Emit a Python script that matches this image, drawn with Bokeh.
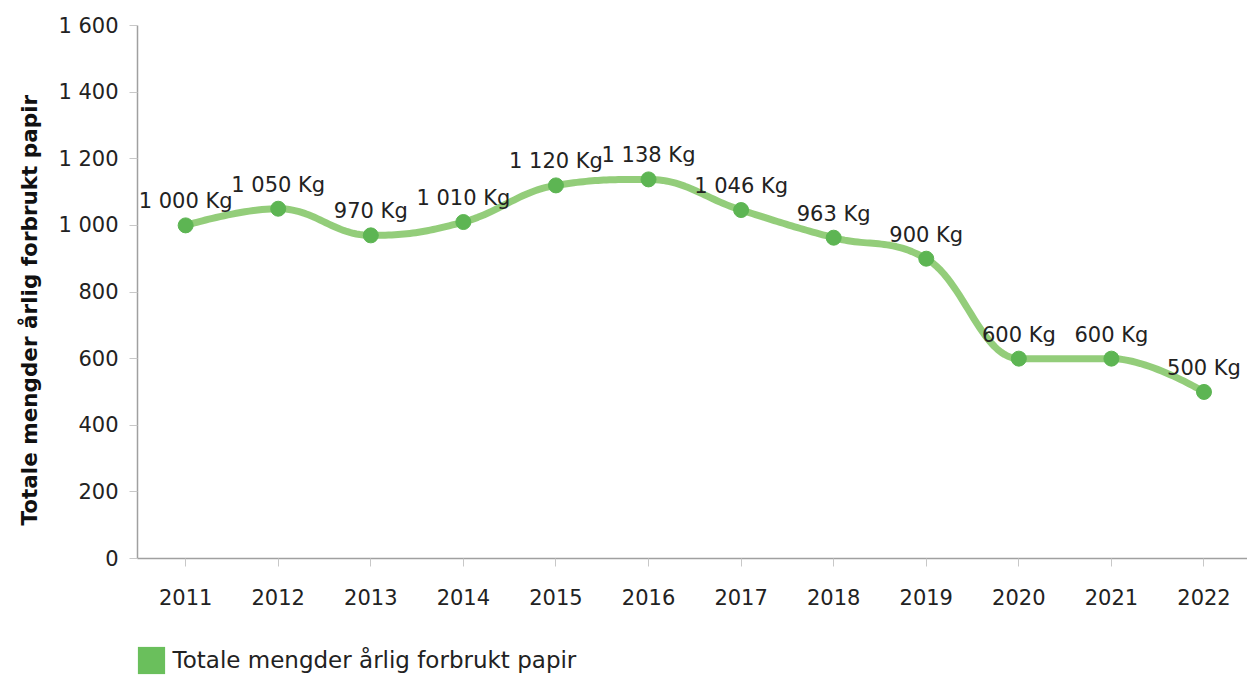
import numpy as np
from bokeh.plotting import figure
from bokeh.layouts import column
from bokeh.models import ColumnDataSource, Legend, LegendItem, FixedTicker, Range1d, Title
from bokeh.embed import file_html
from bokeh.resources import INLINE
from bokeh.core.properties import value

years = [2011, 2012, 2013, 2014, 2015, 2016, 2017, 2018, 2019, 2020, 2021, 2022]
amounts = [1000, 1050, 970, 1010, 1120, 1138, 1046, 963, 900, 600, 600, 500]
point_labels = ["1 000 Kg", "1 050 Kg", "970 Kg", "1 010 Kg", "1 120 Kg", "1 138 Kg",
                "1 046 Kg", "963 Kg", "900 Kg", "600 Kg", "600 Kg", "500 Kg"]
y_ticks = [0, 200, 400, 600, 800, 1000, 1200, 1400, 1600]
y_tick_labels = ["0", "200", "400", "600", "800", "1 000", "1 200", "1 400", "1 600"]
series_name = "Totale mengder årlig forbrukt papir"
y_title = "Totale mengder årlig forbrukt papir"

FONT = "DejaVu Sans"
LINE_COLOR = "#8dca73"
MARKER_COLOR = "#5db553"
LEGEND_COLOR = "#6abf5c"


def spline_path(xs, ys, smoothing=1.5, n=30):
    """Highcharts-style spline through the data points."""
    xs = [float(v) for v in xs]
    ys = [float(v) for v in ys]
    m = len(xs)
    ctrl = []
    for i in range(m):
        if i == 0 or i == m - 1:
            ctrl.append((xs[i], ys[i], xs[i], ys[i]))
            continue
        denom = smoothing + 1
        lx = (smoothing * xs[i] + xs[i - 1]) / denom
        ly = (smoothing * ys[i] + ys[i - 1]) / denom
        rx = (smoothing * xs[i] + xs[i + 1]) / denom
        ry = (smoothing * ys[i] + ys[i + 1]) / denom
        if rx != lx:
            corr = (ry - ly) * (rx - xs[i]) / (rx - lx) + ys[i] - ry
            ly += corr
            ry += corr
        if ly > ys[i - 1] and ly > ys[i]:
            ly = max(ys[i - 1], ys[i]); ry = 2 * ys[i] - ly
        elif ly < ys[i - 1] and ly < ys[i]:
            ly = min(ys[i - 1], ys[i]); ry = 2 * ys[i] - ly
        if ry > ys[i + 1] and ry > ys[i]:
            ry = max(ys[i + 1], ys[i]); ly = 2 * ys[i] - ry
        elif ry < ys[i + 1] and ry < ys[i]:
            ry = min(ys[i + 1], ys[i]); ly = 2 * ys[i] - ry
        ctrl.append((lx, ly, rx, ry))
    px, py = [xs[0]], [ys[0]]
    t = np.linspace(0, 1, n)[1:]
    for i in range(m - 1):
        x0, y0 = xs[i], ys[i]
        x3, y3 = xs[i + 1], ys[i + 1]
        x1, y1 = ctrl[i][2], ctrl[i][3]
        x2, y2 = ctrl[i + 1][0], ctrl[i + 1][1]
        bx = (1 - t) ** 3 * x0 + 3 * (1 - t) ** 2 * t * x1 + 3 * (1 - t) * t ** 2 * x2 + t ** 3 * x3
        by = (1 - t) ** 3 * y0 + 3 * (1 - t) ** 2 * t * y1 + 3 * (1 - t) * t ** 2 * y2 + t ** 3 * y3
        px.extend(bx.tolist()); py.extend(by.tolist())
    return px, py


p = figure(width=1247, height=643, output_backend="svg", toolbar_location=None,
           x_range=Range1d(2010.48, 2022.47), y_range=Range1d(0, 1600),
           min_border_left=137, min_border_top=25, min_border_right=0, min_border_bottom=85)
p.outline_line_color = None
p.grid.visible = False
p.background_fill_color = "white"
p.border_fill_color = "white"

sx, sy = spline_path(years, amounts)
p.line(sx, sy, line_color=LINE_COLOR, line_width=7, line_alpha=0.95, line_cap="round", line_join="round")

src = ColumnDataSource(dict(x=years, y=amounts, lab=point_labels))
p.scatter("x", "y", source=src, size=15, fill_color=MARKER_COLOR, line_color=MARKER_COLOR)
p.text("x", "y", text="lab", source=src, text_align="center", text_baseline="middle",
       y_offset=-24, text_font=value(FONT), text_font_size="21px", text_color="#222222")

p.yaxis.ticker = FixedTicker(ticks=y_ticks)
p.yaxis.major_label_overrides = {t: l for t, l in zip(y_ticks, y_tick_labels)}
p.xaxis.ticker = FixedTicker(ticks=years)
for ax in (p.xaxis, p.yaxis):
    ax.axis_line_color = "#a0a0a0"
    ax.axis_line_width = 1.5
    ax.major_tick_line_color = "#c8c8c8"
    ax.major_tick_out = 8
    ax.major_tick_in = 0
    ax.minor_tick_line_color = None
    ax.major_label_text_font = FONT
    ax.major_label_text_font_size = "21px"
    ax.major_label_text_color = "#222222"
p.xaxis.major_label_standoff = 22
p.yaxis.major_label_standoff = 11

ytitle = Title(text=y_title, align="left", offset=33, standoff=27,
               text_font=FONT, text_font_style="bold", text_font_size="21.5px",
               text_color="#111111")
p.add_layout(ytitle, "left")

# legend strip below the chart
lg = figure(width=1247, height=32, output_backend="svg", toolbar_location=None,
            x_axis_location=None, y_axis_location=None,
            x_range=p.x_range, y_range=p.y_range,
            min_border_left=137, min_border_top=0, min_border_right=0, min_border_bottom=0)
lg.outline_line_color = None
lg.grid.visible = False
# zero-area quads (invisible) used only to draw the legend swatch
leg_r = lg.quad(left="x", right="x", top="y", bottom="y", source=src,
                fill_color=LEGEND_COLOR, line_color=None)
legend = Legend(items=[LegendItem(label=series_name, renderers=[leg_r])],
                location=(-3.4, -2), orientation="horizontal",
                glyph_width=34, glyph_height=34, label_standoff=5,
                label_text_font=FONT, label_text_font_size="23px", label_text_color="#222222",
                border_line_color=None, background_fill_alpha=0, padding=0, margin=0,
                label_height=34)
lg.add_layout(legend, "center")

layout = column(p, lg, spacing=0)
open("out.html", "w").write(file_html(layout, INLINE))
